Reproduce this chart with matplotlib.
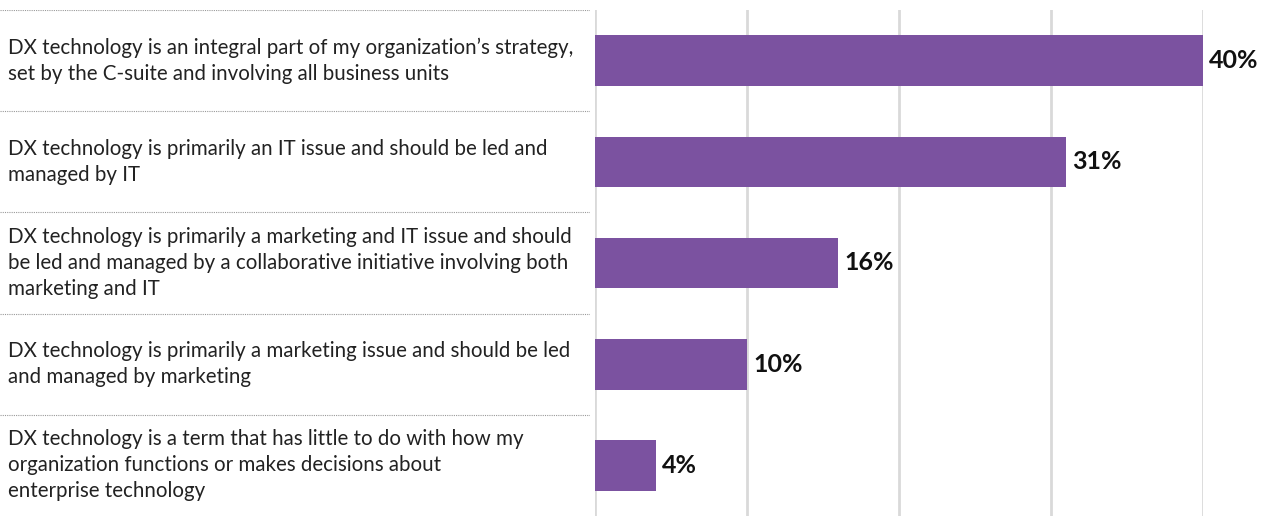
import matplotlib.pyplot as plt

statements = [
    "DX technology is an integral part of my organization\u2019s strategy,\nset by the C-suite and involving all business units",
    "DX technology is primarily an IT issue and should be led and\nmanaged by IT",
    "DX technology is primarily a marketing and IT issue and should\nbe led and managed by a collaborative initiative involving both\nmarketing and IT",
    "DX technology is primarily a marketing issue and should be led\nand managed by marketing",
    "DX technology is a term that has little to do with how my\norganization functions or makes decisions about\nenterprise technology",
]
shares = [40, 31, 16, 10, 4]

plt.rcParams['font.family'] = ['Lato', 'DejaVu Sans']

W, H = 1268, 516
fig = plt.figure(figsize=(W / 100, H / 100), dpi=100)

# bar panel
ax = fig.add_axes([595 / W, 0, (1203 - 595) / W, 506 / H])
ypos = list(range(len(shares)))
ax.barh(ypos, shares, height=0.5, color='#7b52a0', zorder=2)
for y, v in zip(ypos, shares):
    ax.text(v + 0.4, y, f"{v}%", va='center', ha='left', fontsize=18,
            fontweight='bold', color='#111111')
ax.set_xlim(0, 40)
ax.set_ylim(len(shares) - 0.5, -0.5)
ax.set_xticks([0, 10, 20, 30, 40])
ax.grid(axis='x', color='#d9d9d9', linewidth=2, zorder=0)
ax.tick_params(left=False, bottom=False, labelleft=False, labelbottom=False)
for s in ax.spines.values():
    s.set_visible(False)

# statement panel with dotted separators
lax = fig.add_axes([0, 0, 590 / W, 506 / H])
lax.set_xlim(0, 1)
lax.set_ylim(len(shares) - 0.5, -0.5)
for b in [i - 0.5 for i in range(len(shares))]:
    lax.axhline(b, color='#999999', linestyle=(0, (1, 1)), linewidth=0.8)
for y, label in zip(ypos, statements):
    lax.text(8 / 590, y, label, va='center', ha='left', fontsize=14.8,
             color='#222222', linespacing=1.38)
lax.axis('off')

fig.savefig('out.png', dpi=100)
